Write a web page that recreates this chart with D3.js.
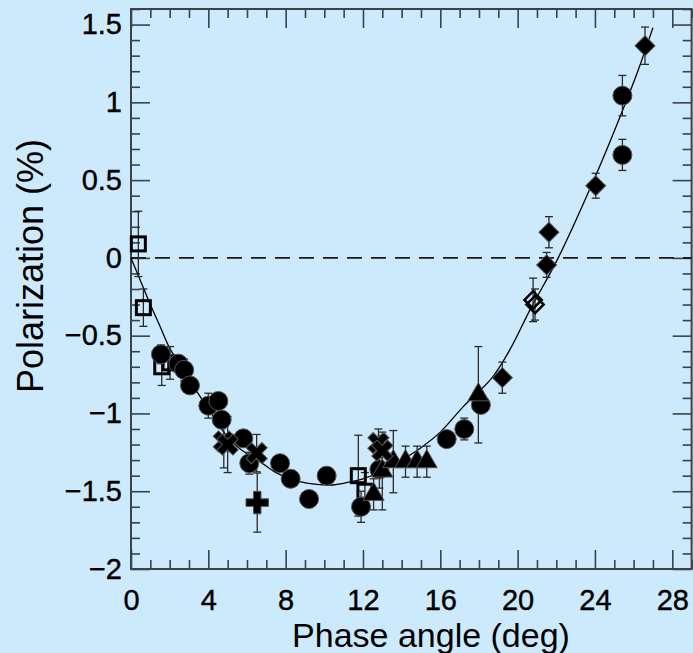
<!DOCTYPE html>
<html><head><meta charset="utf-8">
<script src="https://cdn.jsdelivr.net/npm/d3@7"></script>
<style>html,body{margin:0;padding:0;background:#cdeafd;}svg{display:block;}</style>
</head><body>
<script>
// ---- data ----
const xTicks = [0, 4, 8, 12, 16, 20, 24, 28];
const xTickLabels = ["0", "4", "8", "12", "16", "20", "24", "28"];
const yTicks = [-2, -1.5, -1, -0.5, 0, 0.5, 1, 1.5];
const yTickLabels = ["\u22122", "\u22121.5", "\u22121", "\u22120.5", "0", "0.5", "1", "1.5"];

const fitX = [0, 0.5, 1.0, 1.5, 2.0, 2.5, 3.0, 3.57, 4.0, 5.12, 6.0, 6.67, 7.5, 8.74, 9.5, 10.45, 11.33, 12, 13, 14, 15, 16, 17.19, 18.66, 19.6, 20.64, 22.1, 24.09, 25.3, 26.24, 27.0];
const fitY = [0, -0.15, -0.30, -0.44, -0.58, -0.68, -0.78, -0.89, -0.97, -1.17, -1.26, -1.31, -1.38, -1.438, -1.455, -1.46, -1.44, -1.42, -1.37, -1.30, -1.22, -1.12, -0.956, -0.773, -0.59, -0.334, 0.0, 0.544, 0.908, 1.208, 1.48];

const circleX = [1.55, 2.45, 2.75, 3.05, 4.0, 4.52, 4.69, 5.81, 6.12, 7.71, 8.26, 9.21, 10.12, 11.9, 12.85, 16.33, 17.24, 18.1, 25.42, 25.42];
const circleY = [-0.62, -0.68, -0.72, -0.82, -0.95, -0.92, -1.04, -1.16, -1.32, -1.32, -1.42, -1.55, -1.40, -1.60, -1.36, -1.165, -1.10, -0.945, 1.043, 0.662];
const circleErr = [0.06, 0.05, 0.07, 0.05, 0.08, 0.05, 0.05, 0.04, 0.07, 0.04, 0.04, 0.04, 0.05, 0.1, 0.12, 0.05, 0.07, 0.05, 0.13, 0.1];

const squareX = [0.38, 0.64, 1.59, 2.02, 11.76, 12.1];
const squareY = [0.09, -0.32, -0.70, -0.675, -1.40, -1.50];
const squareErr = [0.21, 0.12, 0.12, 0.105, 0.26, 0.12];

const triX = [12.55, 13.0, 13.57, 14.2, 14.8, 15.3, 17.97];
const triY = [-1.52, -1.37, -1.31, -1.31, -1.31, -1.31, -0.88];
const triErr = [0.1, 0.25, 0.2, 0.1, 0.1, 0.1, 0.31];

const diamondX = [19.21, 21.5, 21.62, 24.04, 26.59];
const diamondY = [-0.77, -0.045, 0.165, 0.464, 1.364];
const diamondErr = [0.1, 0.08, 0.1, 0.08, 0.12];

const openDiamondX = [20.8, 20.9];
const openDiamondY = [-0.27, -0.30];
const openDiamondErr = [0.14, 0.1];

const crossX = [4.8, 5.0, 6.5, 12.8, 13.0];
const crossY = [-1.18, -1.20, -1.255, -1.19, -1.24];
const crossErr = [0.17, 0.18, 0.12, 0.09, 0.1];

const plusX = [6.53];
const plusY = [-1.573];
const plusErr = [0.19];

// ---- layout ----
const W = 693, H = 653;
const L = 131, T = 9, R = 691.6, B = 569;
const x = d3.scaleLinear().domain([0, 29]).range([L, R]);
const y = d3.scaleLinear().domain([-2, 1.6]).range([B, T]);
const ink = "#1a1a1a", frameCol = "#38434b";
const font = "'Liberation Sans', Arial, Helvetica, sans-serif";

const svg = d3.select("body").append("svg").attr("width", W).attr("height", H);
svg.append("rect").attr("width", W).attr("height", H).attr("fill", "#cdeafd");

const xMinor = d3.range(0, 30, 1).filter(v => v % 4 !== 0);
const yMinor = d3.range(-20, 17, 1).filter(v => v % 5 !== 0).map(v => v / 10);

function axisGroup(axis, tx, ty) {
  const g = svg.append("g").attr("transform", `translate(${tx},${ty})`).call(axis);
  g.select(".domain").remove();
  g.selectAll(".tick line").attr("stroke", frameCol).attr("stroke-width", 1.6);
  return g;
}
function styleLabels(g) {
  g.selectAll(".tick text").attr("font-family", font).attr("font-size", 29).attr("fill", "#000")
    .attr("stroke", "#000").attr("stroke-width", 0.4);
}
// major ticks
const xb = axisGroup(d3.axisBottom(x).tickValues(xTicks).tickSizeInner(-19).tickSizeOuter(0).tickPadding(20)
  .tickFormat((d, i) => xTickLabels[i]), 0, B);
styleLabels(xb);
axisGroup(d3.axisTop(x).tickValues(xTicks).tickSizeInner(-19).tickSizeOuter(0).tickFormat(""), 0, T);
const yl = axisGroup(d3.axisLeft(y).tickValues(yTicks).tickSizeInner(-19).tickSizeOuter(0).tickPadding(9)
  .tickFormat((d, i) => yTickLabels[i]), L, 0);
styleLabels(yl);
axisGroup(d3.axisRight(y).tickValues(yTicks).tickSizeInner(-19).tickSizeOuter(0).tickFormat(""), R, 0);
// minor ticks
axisGroup(d3.axisBottom(x).tickValues(xMinor).tickSizeInner(-9).tickSizeOuter(0).tickFormat(""), 0, B);
axisGroup(d3.axisTop(x).tickValues(xMinor).tickSizeInner(-9).tickSizeOuter(0).tickFormat(""), 0, T);
axisGroup(d3.axisLeft(y).tickValues(yMinor).tickSizeInner(-9).tickSizeOuter(0).tickFormat(""), L, 0);
axisGroup(d3.axisRight(y).tickValues(yMinor).tickSizeInner(-9).tickSizeOuter(0).tickFormat(""), R, 0);

// frame
svg.append("rect").attr("x", L).attr("y", T).attr("width", R - L).attr("height", B - T)
  .attr("fill", "none").attr("stroke", frameCol).attr("stroke-width", 2);

// zero dashed line
svg.append("line").attr("x1", x(0)).attr("x2", R).attr("y1", y(0)).attr("y2", y(0))
  .attr("stroke", ink).attr("stroke-width", 1.6).attr("stroke-dasharray", "15,9");

// fit curve
const fit = fitX.map((v, i) => [v, fitY[i]]);
svg.append("path").datum(fit).attr("fill", "none").attr("stroke", "#000").attr("stroke-width", 1.3)
  .attr("d", d3.line().x(d => x(d[0])).y(d => y(d[1])).curve(d3.curveCatmullRom));

// error bars
function zip(xs, ys, es) { return xs.map((v, i) => ({ x: v, y: ys[i], e: es[i] })); }
const circles = zip(circleX, circleY, circleErr);
const squares = zip(squareX, squareY, squareErr);
const tris = zip(triX, triY, triErr);
const diamonds = zip(diamondX, diamondY, diamondErr);
const openDiamonds = zip(openDiamondX, openDiamondY, openDiamondErr);
const crosses = zip(crossX, crossY, crossErr);
const pluses = zip(plusX, plusY, plusErr);
const all = [].concat(squares, circles, tris, diamonds, openDiamonds, crosses, pluses);
const eg = svg.append("g").attr("stroke", "#2b2b2b").attr("stroke-width", 1.3);
all.forEach(d => {
  const xx = x(d.x), y1 = y(d.y + d.e), y2 = y(d.y - d.e);
  eg.append("line").attr("x1", xx).attr("x2", xx).attr("y1", y1).attr("y2", y2);
  eg.append("line").attr("x1", xx - 4).attr("x2", xx + 4).attr("y1", y1).attr("y2", y1);
  eg.append("line").attr("x1", xx - 4).attr("x2", xx + 4).attr("y1", y2).attr("y2", y2);
});

// markers
const mg = svg.append("g");
mg.selectAll(".sq").data(squares).join("rect")
  .attr("x", d => x(d.x) - 7).attr("y", d => y(d.y) - 7).attr("width", 14).attr("height", 14)
  .attr("fill", "none").attr("stroke", "#000").attr("stroke-width", 3);
mg.selectAll(".ci").data(circles).join("circle")
  .attr("cx", d => x(d.x)).attr("cy", d => y(d.y)).attr("r", 9.5)
  .attr("fill", "#000").attr("stroke", "#555").attr("stroke-width", 1);
const tri = d3.symbol().type(d3.symbolTriangle).size(190);
mg.selectAll(".tr").data(tris).join("path")
  .attr("transform", d => `translate(${x(d.x)},${y(d.y)})`).attr("d", tri())
  .attr("fill", "#000").attr("stroke", "#555").attr("stroke-width", 1);
const dia = d3.symbol().type(d3.symbolSquare).size(200);
mg.selectAll(".di").data(diamonds).join("path")
  .attr("transform", d => `translate(${x(d.x)},${y(d.y)}) rotate(45)`).attr("d", dia())
  .attr("fill", "#000").attr("stroke", "#555").attr("stroke-width", 1);
mg.selectAll(".od").data(openDiamonds).join("path")
  .attr("transform", d => `translate(${x(d.x)},${y(d.y)}) rotate(45)`).attr("d", d3.symbol().type(d3.symbolSquare).size(150)())
  .attr("fill", "none").attr("stroke", "#000").attr("stroke-width", 2.5);
const crossPath = d3.symbol().type(d3.symbolCross).size(280);
mg.selectAll(".cr").data(crosses).join("path")
  .attr("transform", d => `translate(${x(d.x)},${y(d.y)}) rotate(45)`).attr("d", crossPath())
  .attr("fill", "#000").attr("stroke", "#555").attr("stroke-width", 1);
mg.selectAll(".pl").data(pluses).join("path")
  .attr("transform", d => `translate(${x(d.x)},${y(d.y)})`).attr("d", crossPath())
  .attr("fill", "#000").attr("stroke", "#555").attr("stroke-width", 1);

// axis titles
svg.append("text").attr("x", 431).attr("y", 647).attr("text-anchor", "middle")
  .attr("font-family", font).attr("font-size", 34).attr("fill", "#000").text("Phase angle (deg)");
svg.append("text").attr("transform", `translate(43,266) rotate(-90)`).attr("text-anchor", "middle")
  .attr("font-family", font).attr("font-size", 36).attr("fill", "#000").text("Polarization (%)");
</script>
</body></html>
